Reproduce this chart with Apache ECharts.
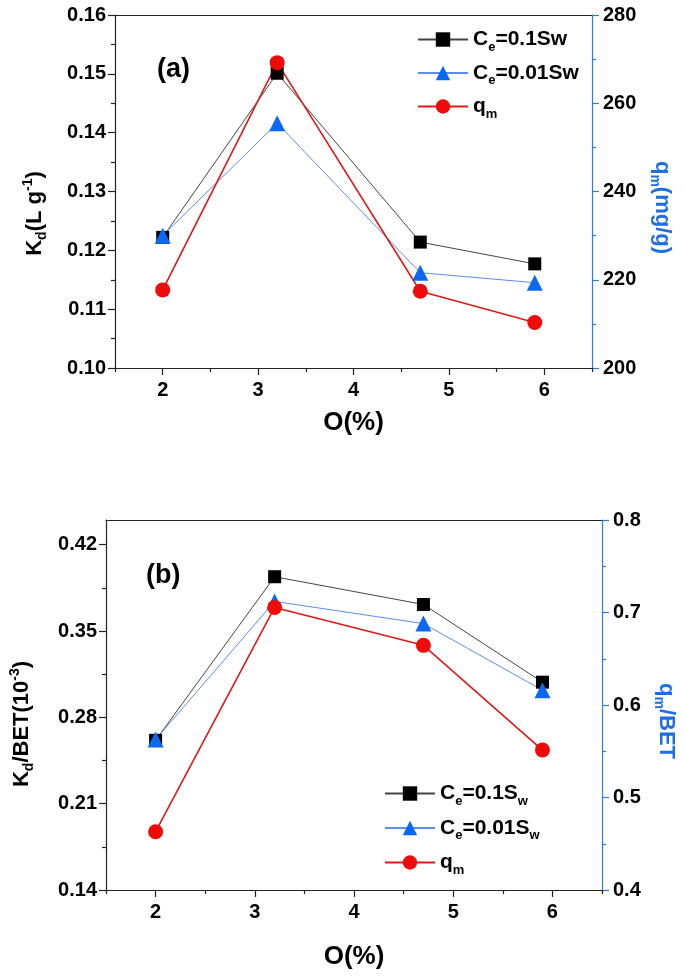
<!DOCTYPE html>
<html><head><meta charset="utf-8">
<script src="https://cdn.jsdelivr.net/npm/echarts@6/dist/echarts.min.js"></script>
<style>html,body{margin:0;padding:0;background:#fff}#c{width:685px;height:977px}</style>
</head><body><div id="c"></div>
<script>
// ---- data ----
const oxygen = [2, 3.2, 4.7, 5.9];
const kdHigh = [0.1222, 0.1501, 0.1214, 0.1177];
const kdLow = [0.1225, 0.1416, 0.1162, 0.1145];
const qm = [217.7, 269.2, 217.4, 210.3];
const kdBetHigh = [0.2614, 0.394, 0.3715, 0.3085];
const kdBetLow = [0.262, 0.374, 0.356, 0.302];
const qmBet = [0.463, 0.7055, 0.6645, 0.5513];
const xTicks = [2, 3, 4, 5, 6];
const xMinorTicks = [1.5, 2.5, 3.5, 4.5, 5.5, 6.5];
const kdBetTicks = [0.14, 0.21, 0.28, 0.35, 0.42];
const kdBetMinorTicks = [0.175, 0.245, 0.315, 0.385];
const namesTop = ['Ce=0.1Sw', 'Ce=0.01Sw', 'qm'];
const namesBottom = ['Ce=0.1S_w', 'Ce=0.01S_w', 'qm(b)'];

// ---- styles ----
const FONT = 'Liberation Sans, Arial, sans-serif';
const BLUE_AXIS = '#2b7de9';
const BLUE_NAME = '#1c6fe3';
const BLUE_MARK = '#0b68f2';
const RED = '#f00a0a';
const pts = arr => oxygen.map((x, i) => [x, arr[i]]);

const richBase = (size, color) => ({
  t: {fontSize: size, fontWeight: 'bold', fontFamily: FONT, color: color, lineHeight: 28},
  s: {fontSize: Math.round(size * 0.62), fontWeight: 'bold', fontFamily: FONT, color: color, lineHeight: 12, verticalAlign: 'bottom'},
  p: {fontSize: Math.round(size * 0.62), fontWeight: 'bold', fontFamily: FONT, color: color, lineHeight: 12, verticalAlign: 'top'}
});

const legendText = {
  'Ce=0.1Sw': '{t|C}{s|e}{t|=0.1Sw}',
  'Ce=0.01Sw': '{t|C}{s|e}{t|=0.01Sw}',
  'qm': '{t|q}{s|m}',
  'Ce=0.1S_w': '{t|C}{s|e}{t|=0.1S}{s|w}',
  'Ce=0.01S_w': '{t|C}{s|e}{t|=0.01S}{s|w}',
  'qm(b)': '{t|q}{s|m}'
};

const labelStyle = {color: '#000', fontSize: 20, fontWeight: 'bold', fontFamily: FONT, margin: 9};

function xAxes(grid, gap) {
  return [
    {gridIndex: grid, type: 'value', min: 1.5, max: 6.5, interval: 0.5, position: 'bottom',
     axisLine: {show: true, onZero: false, lineStyle: {color: '#222', width: 1.2}},
     axisTick: {show: true, customValues: xTicks, length: 7, lineStyle: {color: '#222', width: 1.2}},
     axisLabel: Object.assign({customValues: xTicks}, labelStyle, {margin: 12}),
     splitLine: {show: false},
     name: 'O(%)', nameLocation: 'middle', nameGap: gap,
     nameTextStyle: {fontSize: 26, fontWeight: 'bold', fontFamily: FONT, color: '#000'}},
    {gridIndex: grid, type: 'value', min: 1.5, max: 6.5, interval: 0.5, position: 'bottom',
     axisLine: {show: false, onZero: false},
     axisTick: {show: true, customValues: xMinorTicks, length: 4, lineStyle: {color: '#222', width: 1.2}},
     axisLabel: {show: false}, splitLine: {show: false}},
    {gridIndex: grid, type: 'value', min: 1.5, max: 6.5, interval: 0.5, position: 'top',
     axisLine: {show: true, onZero: false, lineStyle: {color: '#222', width: 1.2}},
     axisTick: {show: false}, axisLabel: {show: false}, splitLine: {show: false}}
  ];
}

const option = {
  animation: false,
  backgroundColor: '#fff',
  grid: [
    {left: 115, right: 93, top: 15, height: 353},
    {left: 105, right: 83, top: 520, height: 370}
  ],
  xAxis: [].concat(xAxes(0, 42), xAxes(1, 54)),
  yAxis: [
    {gridIndex: 0, type: 'value', position: 'left', min: 0.10, max: 0.16, interval: 0.01,
     axisLine: {show: true, onZero: false, lineStyle: {color: '#222', width: 1.2}},
     axisTick: {show: true, length: 7, lineStyle: {color: '#222', width: 1.2}},
     minorTick: {show: true, splitNumber: 2, length: 4, lineStyle: {color: '#222', width: 1.2}},
     axisLabel: Object.assign({formatter: v => v.toFixed(2)}, labelStyle),
     splitLine: {show: false},
     name: '{t|K}{s|d}{t|(L g}{p|-1}{t|)}', nameLocation: 'middle', nameGap: 66, nameRotate: 90,
     nameTextStyle: {rich: richBase(22, '#000'), padding: [0, 44, 0, 0]}},
    {gridIndex: 0, type: 'value', position: 'right', min: 200, max: 280, interval: 20,
     axisLine: {show: true, onZero: false, lineStyle: {color: BLUE_AXIS, width: 1.2}},
     axisTick: {show: true, length: 7, lineStyle: {color: BLUE_AXIS, width: 1.2}},
     minorTick: {show: true, splitNumber: 2, length: 4, lineStyle: {color: BLUE_AXIS, width: 1.2}},
     axisLabel: Object.assign({}, labelStyle, {margin: 11}), splitLine: {show: false},
     name: '{t|q}{s|m}{t|(mg/g)}', nameLocation: 'middle', nameGap: 56, nameRotate: -90,
     nameTextStyle: {rich: richBase(22, BLUE_NAME), padding: [0, 0, 0, 32]}},
    {gridIndex: 1, type: 'value', position: 'left', min: 0.14, max: 0.44, interval: 0.07,
     axisLine: {show: true, onZero: false, lineStyle: {color: '#222', width: 1.2}},
     axisTick: {show: true, customValues: kdBetTicks, length: 7, lineStyle: {color: '#222', width: 1.2}},
     axisLabel: Object.assign({customValues: kdBetTicks, formatter: v => v.toFixed(2)}, labelStyle),
     splitLine: {show: false},
     name: '{t|K}{s|d}{t|/BET(10}{p|-3}{t|)}', nameLocation: 'middle', nameGap: 70, nameRotate: 90,
     nameTextStyle: {rich: richBase(22, '#000'), padding: [0, 38, 0, 0]}},
    {gridIndex: 1, type: 'value', position: 'right', min: 0.4, max: 0.8, interval: 0.1,
     axisLine: {show: true, onZero: false, lineStyle: {color: BLUE_AXIS, width: 1.2}},
     axisTick: {show: true, length: 7, lineStyle: {color: BLUE_AXIS, width: 1.2}},
     minorTick: {show: true, splitNumber: 2, length: 4, lineStyle: {color: BLUE_AXIS, width: 1.2}},
     axisLabel: Object.assign({formatter: v => v.toFixed(1)}, labelStyle, {margin: 11}), splitLine: {show: false},
     name: '{t|q}{s|m}{t|/BET}', nameLocation: 'middle', nameGap: 50, nameRotate: -90,
     nameTextStyle: {rich: richBase(22, BLUE_NAME), padding: [0, 0, 0, 32]}},
    {gridIndex: 1, type: 'value', position: 'left', min: 0.14, max: 0.44, interval: 0.07,
     axisLine: {show: false, onZero: false},
     axisTick: {show: true, customValues: kdBetMinorTicks, length: 4, lineStyle: {color: '#222', width: 1.2}},
     axisLabel: {show: false}, splitLine: {show: false}}
  ],
  legend: [
    {orient: 'vertical', left: 412, top: 24, itemWidth: 50, itemHeight: 18, itemGap: 9,
     data: namesTop, formatter: n => legendText[n], textStyle: {rich: richBase(21, '#000')}},
    {orient: 'vertical', left: 379, top: 778, itemWidth: 50, itemHeight: 18, itemGap: 10,
     data: namesBottom, formatter: n => legendText[n], textStyle: {rich: richBase(21, '#000')}}
  ],
  graphic: [
    {type: 'text', left: 157, top: 56, style: {text: '(a)', font: 'bold 27px ' + FONT, fill: '#000'}},
    {type: 'text', left: 146, top: 562, style: {text: '(b)', font: 'bold 27px ' + FONT, fill: '#000'}}
  ],
  series: [
    {name: namesTop[0], type: 'line', xAxisIndex: 0, yAxisIndex: 0, data: pts(kdHigh),
     symbol: 'rect', symbolSize: 13, itemStyle: {color: '#000'}, lineStyle: {color: '#444', width: 1}},
    {name: namesTop[1], type: 'line', xAxisIndex: 0, yAxisIndex: 0, data: pts(kdLow),
     symbol: 'triangle', symbolSize: 16, itemStyle: {color: BLUE_MARK}, lineStyle: {color: '#5a8ff0', width: 1}},
    {name: namesTop[2], type: 'line', xAxisIndex: 0, yAxisIndex: 1, data: pts(qm),
     symbol: 'circle', symbolSize: 15, itemStyle: {color: RED}, lineStyle: {color: '#e01818', width: 1.6}},
    {name: namesBottom[0], type: 'line', xAxisIndex: 3, yAxisIndex: 2, data: pts(kdBetHigh),
     symbol: 'rect', symbolSize: 13, itemStyle: {color: '#000'}, lineStyle: {color: '#444', width: 1}},
    {name: namesBottom[1], type: 'line', xAxisIndex: 3, yAxisIndex: 2, data: pts(kdBetLow),
     symbol: 'triangle', symbolSize: 16, itemStyle: {color: BLUE_MARK}, lineStyle: {color: '#5a8ff0', width: 1}},
    {name: namesBottom[2], type: 'line', xAxisIndex: 3, yAxisIndex: 3, data: pts(qmBet),
     symbol: 'circle', symbolSize: 15, itemStyle: {color: RED}, lineStyle: {color: '#e01818', width: 1.6}}
  ]
};
echarts.init(document.getElementById('c'), null, {renderer: 'canvas'}).setOption(option);
</script></body></html>
